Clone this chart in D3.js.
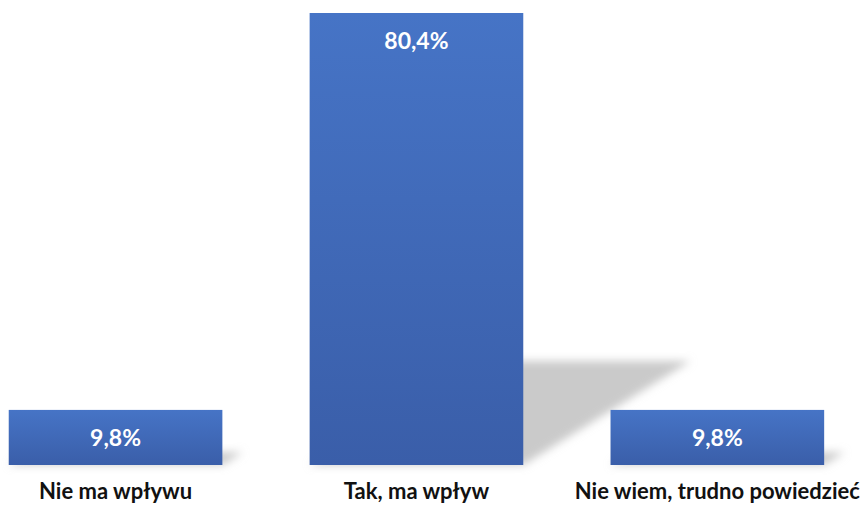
<!DOCTYPE html>
<html>
<head>
<meta charset="utf-8">
<script src="https://cdn.jsdelivr.net/npm/d3@7/dist/d3.min.js"></script>
<style>
  html, body { margin: 0; padding: 0; background: #ffffff; }
  svg { display: block; }
</style>
</head>
<body>
<svg id="chart" width="867" height="506"></svg>
<script>
// Survey answers and their shares (%)
const categories = ["Nie ma wpływu", "Tak, ma wpływ", "Nie wiem, trudno powiedzieć"];
const values = [9.8, 80.4, 9.8];
const valueLabels = ["9,8%", "80,4%", "9,8%"];

const width = 867, height = 506;
const baseY = 465, topY = 13;

const svg = d3.select("#chart");
const defs = svg.append("defs");

const grad = defs.append("linearGradient")
  .attr("id", "barFill").attr("x1", 0).attr("y1", 0).attr("x2", 0).attr("y2", 1);
grad.append("stop").attr("offset", "0%").attr("stop-color", "#4674c6");
grad.append("stop").attr("offset", "100%").attr("stop-color", "#3a5ea9");

const blur = defs.append("filter").attr("id", "shadowBlur")
  .attr("x", "-20%").attr("y", "-20%").attr("width", "140%").attr("height", "140%");
blur.append("feGaussianBlur").attr("stdDeviation", 4.5);

const x = d3.scaleBand()
  .domain(categories)
  .range([-34.9, 867.8])
  .paddingInner(0.29)
  .paddingOuter(0.145);

const y = d3.scaleLinear()
  .domain([0, d3.max(values)])
  .range([baseY, topY]);

const rows = categories.map((c, i) => ({ cat: c, value: values[i], label: valueLabels[i] }));

// Perspective shadows cast up and to the right of each bar
const shadowScale = 0.23, shadowSkew = 0.37;
svg.append("g").attr("filter", "url(#shadowBlur)")
  .selectAll("path").data(rows).join("path")
  .attr("fill", "#bdbdbd")
  .attr("fill-opacity", 0.8)
  .attr("d", d => {
    const x0 = x(d.cat), x1 = x0 + x.bandwidth();
    const h = (baseY - y(d.value)) * shadowScale;
    const shift = (baseY - y(d.value)) * shadowSkew;
    return `M${x0},${baseY} L${x1},${baseY} L${x1 + shift},${baseY - h} L${x0 + shift},${baseY - h} Z`;
  });

// Bars
svg.append("g").selectAll("rect").data(rows).join("rect")
  .attr("x", d => x(d.cat))
  .attr("y", d => y(d.value))
  .attr("width", x.bandwidth())
  .attr("height", d => baseY - y(d.value))
  .attr("fill", "url(#barFill)");

// Value labels inside the top of each bar
svg.append("g").selectAll("text").data(rows).join("text")
  .attr("x", d => x(d.cat) + x.bandwidth() / 2)
  .attr("y", d => y(d.value) + 36)
  .attr("text-anchor", "middle")
  .attr("fill", "#ffffff")
  .attr("font-family", "Lato, 'Open Sans', sans-serif")
  .attr("font-weight", "bold")
  .attr("font-size", 23)
  .text(d => d.label);

// Category axis labels
const xAxis = d3.axisBottom(x).tickSize(0).tickPadding(0);
const axisG = svg.append("g").attr("transform", `translate(0,${baseY})`).call(xAxis);
axisG.select(".domain").remove();
axisG.selectAll("text")
  .attr("y", 34)
  .attr("dy", 0)
  .attr("fill", "#111111")
  .attr("font-family", "Lato, 'Open Sans', sans-serif")
  .attr("font-weight", "bold")
  .attr("font-size", 22);
</script>
</body>
</html>
